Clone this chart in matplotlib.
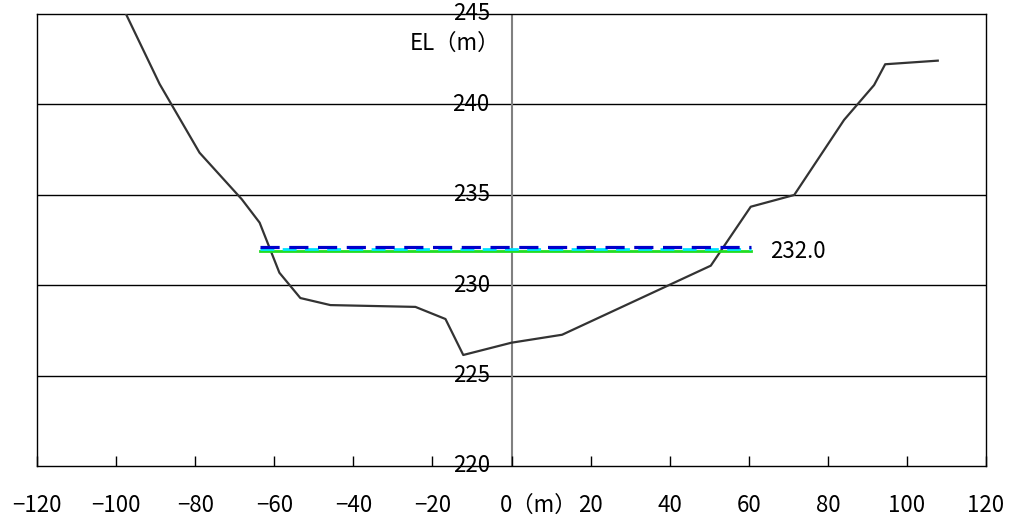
"""
River cross-section: ground profile with water level lines.
"""
import matplotlib

matplotlib.use("Agg")
import matplotlib.pyplot as plt
import matplotlib.transforms as mtransforms

plt.rcParams["font.family"] = ["Noto Sans CJK JP", "DejaVu Sans"]

# ground profile (distance m, elevation m)
ground_x = [-97.5, -89.0, -78.9, -68.2, -63.7, -58.7, -53.4, -45.8, -24.3,
            -16.7, -12.2, 0.0, 12.8, 50.4, 60.5, 71.5, 84.1, 91.7, 94.5, 107.8]
ground_y = [245.0, 241.13, 237.33, 234.75, 233.46, 230.69, 229.29, 228.9, 228.8,
            228.13, 226.14, 226.82, 227.26, 231.08, 234.34, 234.99, 239.14,
            241.07, 242.22, 242.42]

# water levels
water_x = [-63.7, 60.6]
level_blue = 232.1
level_cyan = 232.0
level_green = 231.9
level_label = "232.0"

x_ticks = [-120, -100, -80, -60, -40, -20, 0, 20, 40, 60, 80, 100, 120]
x_ticklabels = ["−120", "−100", "−80", "−60", "−40", "−20", "", "20", "40",
                "60", "80", "100", "120"]
y_ticks = [220, 225, 230, 235, 240, 245]

FS = 16

fig = plt.figure(figsize=(10.1, 5.22), dpi=100)
ax = fig.add_axes([37 / 1010, 1 - 466 / 522, 949 / 1010, 452 / 522])
ax.set_xlim(-120, 120)
ax.set_ylim(220, 245)

# horizontal grid
for yv in y_ticks[1:-1]:
    ax.axhline(yv, color="black", lw=1.0, zorder=1)
ax.axvline(0, color="#808080", lw=1.5, zorder=1)

ax.plot(ground_x, ground_y, color="#333333", lw=1.6, zorder=3)

ax.plot(water_x, [level_green] * 2, color="#22dd22", lw=2.0, zorder=4)
ax.plot(water_x, [level_cyan] * 2, color="#00e5ff", lw=2.0, zorder=4,
        dashes=(5, 3), dash_capstyle="butt")
ax.plot(water_x, [level_blue] * 2, color="#0000cc", lw=2.3, zorder=5,
        dashes=(6, 3), dash_capstyle="butt")
ax.text(65.3, 231.85, level_label, fontsize=FS, ha="left", va="center")

for sp in ax.spines.values():
    sp.set_color("black")
    sp.set_linewidth(1.0)

ax.set_yticks([])
ax.set_xticks(x_ticks)
ax.set_xticklabels(x_ticklabels, fontsize=FS)
ax.tick_params(axis="x", direction="in", length=7, width=1, pad=20)

for yv in y_ticks:
    ax.text(-5.5, yv, str(yv), fontsize=FS, ha="right", va="center",
            zorder=6)
ax.text(-2.9, 243.4, "EL（m）", fontsize=FS, ha="right", va="center")

trans = mtransforms.blended_transform_factory(ax.transData, ax.transAxes)
offset = mtransforms.offset_copy(trans, fig=fig, x=-12, y=0, units="dots")
ax.text(0, -0.087, "0（m）", fontsize=FS, ha="left", va="center",
        transform=offset)

fig.savefig("out.png", dpi=100)
